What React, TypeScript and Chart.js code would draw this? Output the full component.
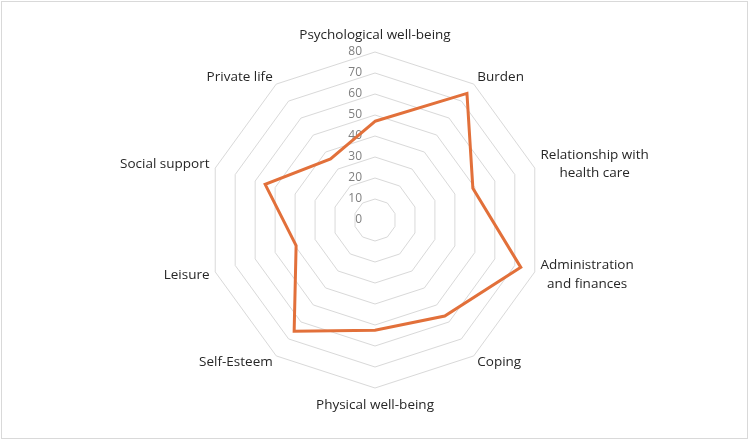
import React, { useEffect, useRef } from "react";
import { Chart, registerables } from "chart.js";

Chart.register(...registerables);

const categories: (string | string[])[] = [
  "Psychological well-being",
  "Burden",
  ["Relationship with", "health care"],
  ["Administration", "and finances"],
  "Coping",
  "Physical well-being",
  "Self-Esteem",
  "Leisure",
  "Social support",
  "Private life",
];

const values: number[] = [47, 74.5, 49, 73, 56.5, 52.5, 65.5, 39.5, 55, 36];

const tickMin = 0;
const tickMax = 80;
const tickStep = 10;

const LABEL_FONT = "13.5px 'Open Sans'";
const LINE_H = 18.5;

const customDraw = {
  id: "customDraw",
  beforeDraw(chart: any) {
    const ctx = chart.ctx;
    ctx.save();
    ctx.fillStyle = "#ffffff";
    ctx.fillRect(0, 0, chart.width, chart.height);
    ctx.strokeStyle = "#d9d9d9";
    ctx.lineWidth = 1;
    ctx.strokeRect(1.5, 1.5, chart.width - 4, chart.height - 3);
    ctx.restore();
  },
  beforeDatasetsDraw(chart: any) {
    const scale = chart.scales.r;
    const ctx = chart.ctx;
    ctx.save();
    // tick labels
    ctx.fillStyle = "#7f7f7f";
    ctx.font = "12px 'Open Sans'";
    ctx.textAlign = "right";
    ctx.textBaseline = "middle";
    scale.ticks.forEach((t: any) => {
      const d = scale.getDistanceFromCenterForValue(t.value);
      ctx.fillText(String(t.value), scale.xCenter - 13, scale.yCenter - d);
    });
    // category labels
    ctx.fillStyle = "#262626";
    ctx.font = LABEL_FONT;
    ctx.textBaseline = "middle";
    const R = scale.drawingArea;
    const labels: (string | string[])[] = chart.data.labels;
    labels.forEach((lab, i) => {
      const lines = Array.isArray(lab) ? lab : [lab];
      const widths = lines.map((l) => ctx.measureText(l).width);
      const maxW = Math.max(...widths);
      const angle = (i * 2 * Math.PI) / labels.length;
      const s = Math.sin(angle);
      let cx: number;
      let cy: number;
      if (Math.abs(s) < 0.01) {
        const p = scale.getPointPosition(i, R + 17);
        cx = p.x;
        cy = p.y;
      } else {
        const p = scale.getPointPosition(i, R + 6);
        cx = s > 0 ? p.x + maxW / 2 : p.x - maxW / 2;
        cy = p.y - (Math.cos(angle) > 0 ? 2 : -1);
      }
      const top = cy - ((lines.length - 1) * LINE_H) / 2;
      ctx.textAlign = "center";
      lines.forEach((l, k) => ctx.fillText(l, cx, top + k * LINE_H));
    });
    ctx.restore();
  },
};

export default function App() {
  const ref = useRef<HTMLCanvasElement | null>(null);
  useEffect(() => {
    document.body.style.margin = "0";
    if (!ref.current) return;
    const chart = new Chart(ref.current, {
      type: "radar",
      data: {
        labels: categories as any,
        datasets: [
          {
            data: values,
            borderColor: "#E2703A",
            borderWidth: 3,
            backgroundColor: "rgba(0,0,0,0)",
            fill: false,
            pointRadius: 0,
            pointHoverRadius: 0,
          },
        ],
      },
      options: {
        animation: false,
        responsive: false,
        maintainAspectRatio: false,
        layout: { padding: { top: 52, bottom: 52, left: 0, right: 0 } },
        plugins: {
          legend: { display: false },
          tooltip: { enabled: false },
        },
        scales: {
          r: {
            min: tickMin,
            max: tickMax,
            ticks: { stepSize: tickStep, display: false },
            grid: { color: "#d9d9d9", lineWidth: 1 },
            angleLines: { display: false },
            pointLabels: { display: false },
          },
        },
      },
      plugins: [customDraw],
    });
    return () => chart.destroy();
  }, []);
  return (
    <div style={{ width: 750, height: 440 }}>
      <canvas ref={ref} width={750} height={440} style={{ display: "block" }} />
    </div>
  );
}
